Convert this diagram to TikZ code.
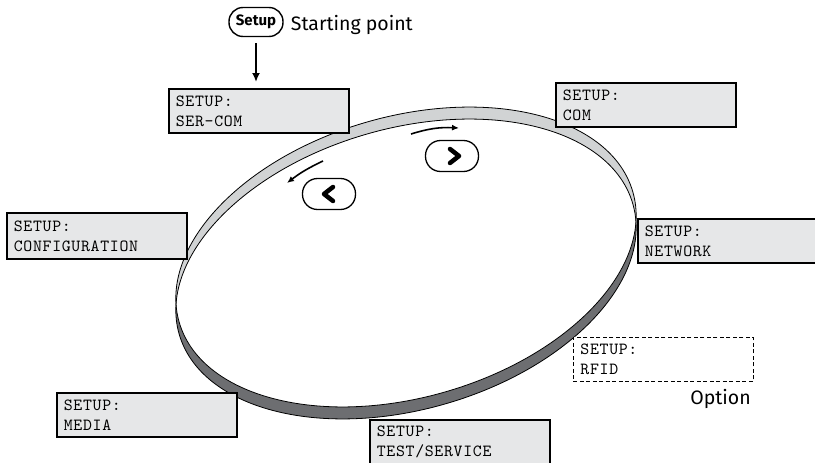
\documentclass[tikz,border=0pt]{standalone}
\usepackage{fontspec}
\setsansfont{Fira Sans}
\newfontfamily\lcdfont{lmmono10-regular.otf}[LetterSpace=4]
\usetikzlibrary{arrows.meta,positioning,calc}
\definecolor{lcdgray}{RGB}{230,231,232}
\definecolor{ringlight}{RGB}{209,211,212}
\definecolor{ringdark}{RGB}{109,110,113}
\tikzset{
  lcd/.style={draw, line width=1.7pt, fill=lcdgray, anchor=north west, text width=166pt,
    minimum height=44pt, align=left, inner xsep=7pt, font=\lcdfont\fontsize{17}{20}\selectfont},
  keycap/.style={draw, line width=1.4pt, rounded corners=14pt, minimum width=54pt,
    minimum height=29pt, inner sep=0pt, font=\sffamily\bfseries\fontsize{15}{15}\selectfont},
  navkey/.style={draw, line width=1.3pt, rounded corners=15pt, fill=white,
    minimum width=53pt, minimum height=31pt, inner sep=0pt},
  chevron/.style={line width=4.5pt, line cap=round, line join=round},
  navarrow/.style={line width=1.6pt, -{Latex[length=7pt,width=6pt]}},
  rim/.style={x radius=236pt, y radius=140.5pt},
  note/.style={inner sep=0pt, font=\sffamily\fontsize{19.5}{20}\selectfont}
}
\begin{document}
\begin{tikzpicture}[x=1pt, y=1pt]
  \useasboundingbox (0,0) rectangle (815,-463);
  % ring
  \coordinate (rimtop) at (406,-257);
  \coordinate (rimlow) at (406,-269);
  \fill[ringlight, rotate around={16:(rimtop)}] (rimtop) ellipse [rim];
  \fill[ringdark, rotate around={16:(rimlow)}] (rimlow) ellipse [rim];
  \begin{scope}
    \clip[rotate around={16:(rimtop)}] (rimtop) ellipse [rim];
    \fill[white, rotate around={16:(rimlow)}] (rimlow) ellipse [rim];
  \end{scope}
  \draw[line width=0.8pt, rotate around={16:(rimtop)}] (rimtop) ellipse [rim];
  \draw[line width=0.8pt, rotate around={16:(rimlow)}] (rimlow) ellipse [rim];

  % menu entries
  \node[lcd] (sercom) at (168,-88) {SETUP:\\SER-COM};
  \node[lcd] (com) at (555,-82) {SETUP:\\COM};
  \node[lcd, minimum height=46pt] (config) at (6,-212) {SETUP:\\CONFIGURATION};
  \node[lcd] (network) at (637,-218) {SETUP:\\NETWORK};
  \node[lcd, dashed, dash pattern=on 4pt off 2.5pt, line width=0.9pt, fill=white] (rfid) at (573,-337) {SETUP:\\RFID};
  \node[lcd] (media) at (56,-392) {SETUP:\\MEDIA};
  \node[lcd] (test) at (369,-419) {SETUP:\\TEST/SERVICE};
  \node[note, anchor=north east] (option) at ([xshift=-3pt, yshift=-7pt]rfid.south east) {Option};

  % starting point
  \node[keycap] (setupkey) at (256,-22) {Setup};
  \node[note, right=7pt of setupkey, yshift=-2.5pt] (start) {Starting point};
  \draw[line width=2pt, -{Latex[length=9pt,width=8pt]}, shorten <=6pt, shorten >=6pt]
    (setupkey.south) -- (setupkey.south |- sercom.north);

  % navigation keys
  \node[navkey] (fwdkey) at (452,-156) {};
  \node[navkey] (backkey) at (329,-194) {};
  \draw[chevron] ([xshift=-2pt, yshift=7pt]fwdkey.center) -- ([xshift=7pt]fwdkey.center)
    -- ([xshift=-2pt, yshift=-7pt]fwdkey.center);
  \draw[chevron] ([xshift=4pt, yshift=7pt]backkey.center) -- ([xshift=-5pt]backkey.center)
    -- ([xshift=4pt, yshift=-7pt]backkey.center);
  \coordinate (fwdfrom) at (411,-134);
  \coordinate (fwdto) at (459,-128);
  \coordinate (backfrom) at (323,-161);
  \coordinate (backto) at (287,-183);
  \draw[navarrow] (fwdfrom) to[bend left=10] (fwdto);
  \draw[navarrow] (backfrom) to[bend right=6] (backto);
\end{tikzpicture}
\end{document}
